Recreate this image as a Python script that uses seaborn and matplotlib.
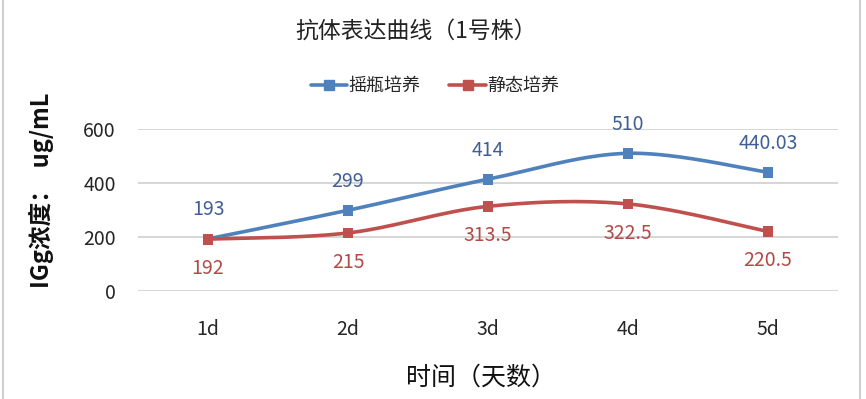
import numpy as np
import pandas as pd
import matplotlib
matplotlib.use("Agg")
import matplotlib.pyplot as plt
import seaborn as sns

# ---- data ----
categories = ["1d", "2d", "3d", "4d", "5d"]
shake_vals = [193, 299, 414, 510, 440.03]
static_vals = [192, 215, 313.5, 322.5, 220.5]
shake_labels = ["193", "299", "414", "510", "440.03"]
static_labels = ["192", "215", "313.5", "322.5", "220.5"]
series_names = ["摇瓶培养", "静态培养"]
yticks = [0, 200, 400, 600]
title_text = "抗体表达曲线（1号株）"
xlabel_text = "时间（天数）"
ylabel_text = "IGg浓度：  ug/mL"

sns.set_theme(style="white")
plt.rcParams['font.family'] = ['Noto Sans CJK SC', 'DejaVu Sans']

BLUE = "#4F81BD"
RED = "#C0504D"
BLUE_TXT = "#3F5F95"
RED_TXT = "#B24A48"

fig = plt.figure(figsize=(8.66, 3.99), dpi=100)
ax = fig.add_axes([138/866, 1-291/399, 700/866, 162/399])


def smooth(xs, ys, n=40):
    xs = np.asarray(xs, float); ys = np.asarray(ys, float)
    P = np.column_stack([xs, ys])
    P_ext = np.vstack([P[0], P, P[-1]])
    out = []
    for i in range(len(P) - 1):
        p0, p1, p2, p3 = P_ext[i], P_ext[i+1], P_ext[i+2], P_ext[i+3]
        c1 = p1 + (p2 - p0) / 6.0
        c2 = p2 - (p3 - p1) / 6.0
        t = np.linspace(0, 1, n)[:, None]
        b = (1-t)**3*p1 + 3*(1-t)**2*t*c1 + 3*(1-t)*t**2*c2 + t**3*p2
        out.append(b if i == 0 else b[1:])
    B = np.vstack(out)
    return B[:, 0], B[:, 1]


xpos = np.arange(len(categories))
df = pd.DataFrame({
    "x": np.concatenate([xpos, xpos]),
    "y": shake_vals + static_vals,
    "s": [series_names[0]]*5 + [series_names[1]]*5,
})

for vals, col in [(shake_vals, BLUE), (static_vals, RED)]:
    sx, sy = smooth(xpos, vals)
    ax.plot(sx, sy, color=col, lw=2.6, solid_capstyle="round", zorder=3)

sns.scatterplot(data=df, x="x", y="y", hue="s", palette=[BLUE, RED],
                marker="s", s=60, linewidth=0, ax=ax, legend=False, zorder=4)

for i in range(len(categories)):
    ax.annotate(shake_labels[i], (xpos[i], shake_vals[i]), xytext=(0, 21),
                textcoords="offset points", ha="center", va="center",
                fontsize=14, color=BLUE_TXT)
    ax.annotate(static_labels[i], (xpos[i], static_vals[i]), xytext=(0, -21),
                textcoords="offset points", ha="center", va="center",
                fontsize=14, color=RED_TXT)

ax.set_xlim(-0.5, len(categories) - 0.5)
ax.set_ylim(0, 600)
ax.set_yticks(yticks)
ax.set_yticklabels([str(v) for v in yticks], fontsize=14)
ax.set_xticks(xpos)
ax.set_xticklabels(categories, fontsize=14)
ax.tick_params(axis="x", length=0, pad=20)
ax.tick_params(axis="y", length=0, pad=16)
ax.grid(axis="y", color="#D0D0D0", lw=1.2)
ax.set_axisbelow(True)
for sp in ax.spines.values():
    sp.set_visible(False)
ax.set_xlabel("")
ax.set_ylabel("")

# legend
from matplotlib.lines import Line2D
handles = [Line2D([0], [0], color=BLUE, lw=2.6, marker="s", markersize=7.5),
           Line2D([0], [0], color=RED, lw=2.6, marker="s", markersize=7.5)]
fig.legend(handles, series_names, loc="center", bbox_to_anchor=(435/866, 1-86/399),
           ncol=2, frameon=False, fontsize=13, handlelength=2.0,
           handletextpad=0.1, columnspacing=1.6)

fig.text(416/866, 1-31/399, title_text, ha="center", va="center", fontsize=16.5,
         color="#222222")
fig.text(481/866, 1-378/399, xlabel_text, ha="center", va="center", fontsize=18,
         color="#111111")
fig.text(41/866, 1-190/399, ylabel_text, ha="center", va="center", fontsize=17,
         fontweight="bold", rotation=90, color="#111111")

# outer chart border (left/right)
fig.add_artist(Line2D([3/866, 3/866], [0, 1], color="#D0D0D0", lw=1.5,
                      transform=fig.transFigure))
fig.add_artist(Line2D([860/866, 860/866], [0, 1], color="#D0D0D0", lw=1.5,
                      transform=fig.transFigure))

fig.savefig("out.png", dpi=100, facecolor="white")
